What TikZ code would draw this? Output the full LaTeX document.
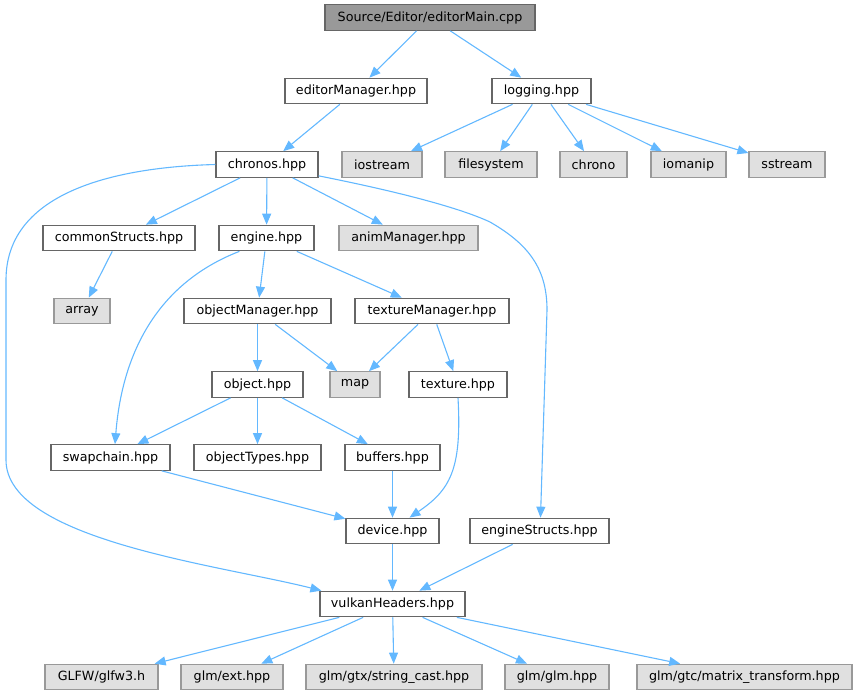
\documentclass[tikz,border=0pt]{standalone}
\usepackage{fontspec}
\setmainfont{DejaVu Sans}
\usetikzlibrary{arrows.meta}
\definecolor{edgec}{HTML}{63B8FF}
\definecolor{bordc}{HTML}{666666}
\definecolor{gfill}{HTML}{E0E0E0}
\definecolor{gbord}{HTML}{999999}
\definecolor{rfill}{HTML}{999999}
\begin{document}
\begin{tikzpicture}[x=1pt,y=-1pt,
  base/.style={draw, line width=1.2pt, inner sep=0pt, minimum height=25.5pt, font=\fontsize{12.7pt}{14pt}\selectfont, anchor=center},
  filebox/.style={base, draw=bordc, fill=white},
  sysbox/.style={base, draw=gbord, fill=gfill},
  rootbox/.style={base, draw=bordc, fill=rfill},
  dep/.style={draw=edgec, line width=1.1pt, -{Triangle[length=11pt,width=9pt]}, shorten >=0pt}
]
\useasboundingbox (0,0) rectangle (856,696);
% nodes
\node[rootbox, minimum width=210pt] (src) at (430,17.5) {Source/Editor/editorMain.cpp};
\node[filebox, minimum width=142pt] (edm) at (356,91) {editorManager.hpp};
\node[filebox, minimum width=99pt] (log) at (541.5,91) {logging.hpp};
\node[filebox, minimum width=102pt] (ch) at (267,164.5) {chronos.hpp};
\node[sysbox, minimum width=80pt] (ios) at (382,164.5) {iostream};
\node[sysbox, minimum width=92pt] (fs) at (491,164.5) {filesystem};
\node[sysbox, minimum width=67pt] (chr) at (593.5,164.5) {chrono};
\node[sysbox, minimum width=75pt] (iom) at (688.5,164.5) {iomanip};
\node[sysbox, minimum width=76pt] (sst) at (787,164.5) {sstream};
\node[filebox, minimum width=152pt] (cs) at (119,238) {commonStructs.hpp};
\node[filebox, minimum width=95pt] (eng) at (266.5,238) {engine.hpp};
\node[sysbox, minimum width=139pt] (anim) at (408.5,238) {animManager.hpp};
\node[sysbox, minimum width=56pt] (arr) at (82,311) {array};
\node[filebox, minimum width=147pt] (om) at (257.5,311) {objectManager.hpp};
\node[filebox, minimum width=154pt] (tm) at (432,311) {textureManager.hpp};
\node[sysbox, minimum width=50pt] (map) at (355,384.5) {map};
\node[filebox, minimum width=98pt] (tex) at (458,384.5) {texture.hpp};
\node[filebox, minimum width=91pt] (obj) at (257.5,384.5) {object.hpp};
\node[filebox, minimum width=119pt] (sw) at (110.5,457.5) {swapchain.hpp};
\node[filebox, minimum width=127pt] (ot) at (257.5,457.5) {objectTypes.hpp};
\node[filebox, minimum width=95pt] (buf) at (392.5,457.5) {buffers.hpp};
\node[filebox, minimum width=93pt] (dev) at (392.5,531) {device.hpp};
\node[filebox, minimum width=139pt] (es) at (539.5,531) {engineStructs.hpp};
\node[filebox, minimum width=145pt] (vk) at (392.5,604) {vulkanHeaders.hpp};
\node[sysbox, minimum width=113pt] (glfw) at (101.5,677) {GLFW/glfw3.h};
\node[sysbox, minimum width=102pt] (ext) at (232,677) {glm/ext.hpp};
\node[sysbox, minimum width=176pt] (sc) at (394,677) {glm/gtx/string\_cast.hpp};
\node[sysbox, minimum width=104pt] (glm) at (557,677) {glm/glm.hpp};
\node[sysbox, minimum width=215pt] (mt) at (744.5,677) {glm/gtc/matrix\_transform.hpp};
% edges
\draw[dep] (src) -- (edm);
\draw[dep] (src) -- (log);
\draw[dep] (edm) -- (ch);
\draw[dep] (log) -- (ios);
\draw[dep] (log) -- (fs);
\draw[dep] (log) -- (chr);
\draw[dep] (log) -- (iom);
\draw[dep] (log) -- (sst);
\draw[dep] (ch) -- (cs);
\draw[dep] (ch) -- (eng);
\draw[dep] (ch) -- (anim);
\draw[dep] ([yshift=2pt]ch.south east) .. controls (400,192) and (460,208) .. (490,222) .. controls (530,245) and (547,270) .. (547,310) -- ([xshift=1pt]es.north);
\draw[dep] (ch.west) .. controls (120,167) and (6,190) .. (6,280) -- (6,460) .. controls (6,540) and (220,565) .. ([xshift=2pt]vk.north west);
\draw[dep] (cs) -- (arr);
\draw[dep] ([xshift=21pt]eng.south west) .. controls (140,290) and (120,380) .. ([xshift=4.5pt]sw.north);
\draw[dep] (eng) -- (om);
\draw[dep] (eng) -- (tm);
\draw[dep] (om) -- (obj);
\draw[dep] (om) -- (map);
\draw[dep] (tm) -- (map);
\draw[dep] (tm) -- (tex);
\draw[dep] (obj) -- (sw);
\draw[dep] (obj) -- (ot);
\draw[dep] (obj) -- (buf);
\draw[dep] (sw) -- (dev);
\draw[dep] (buf) -- (dev);
\draw[dep] (tex.south) .. controls (462,470) and (450,490) .. ([xshift=17pt]dev.north);
\draw[dep] (dev) -- (vk);
\draw[dep] (es) -- (vk);
\draw[dep] (vk) -- (glfw);
\draw[dep] (vk) -- (ext);
\draw[dep] (vk) -- (sc);
\draw[dep] (vk) -- (glm);
\draw[dep] (vk) -- (mt);
\end{tikzpicture}
\end{document}
